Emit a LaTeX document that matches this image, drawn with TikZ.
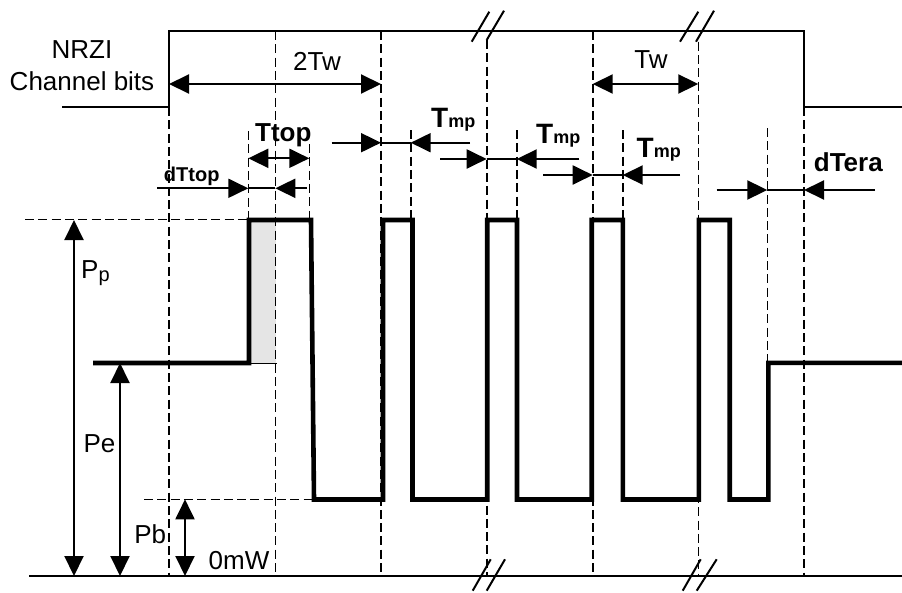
\documentclass[tikz,border=0pt]{standalone}
\usepackage{fontspec}
\setmainfont{Liberation Sans}
\usetikzlibrary{arrows.meta}
\newcommand\tmplbl{\bfseries\fontsize{28}{32}\selectfont T\fontsize{18}{22}\selectfont mp}
\begin{document}
\begin{tikzpicture}[x=1pt,y=-1pt,
  thinln/.style={line width=2pt},
  dashln/.style={line width=1.6pt, dash pattern=on 9pt off 4.3pt},
  wave/.style={line width=4.6pt, line join=miter},
  arr/.style={line width=2pt,-{Triangle[length=20pt,width=19pt]}},
  darr/.style={line width=2pt,{Triangle[length=20pt,width=19pt]}-{Triangle[length=20pt,width=19pt]}},
  lbl/.style={inner sep=0pt, font=\fontsize{26}{30}\selectfont, anchor=base},
  blbl/.style={inner sep=0pt, font=\bfseries\fontsize{26}{30}\selectfont, anchor=base},
  brk/.style={line width=2pt}
]
\useasboundingbox (0,0) rectangle (902,592);

% gray area of first pulse
\fill[gray!20] (251,222) rectangle (275.5,363);
\draw[line width=1pt] (249,363.3) -- (276.5,363.3);

% NRZI channel bits
\draw[thinln] (62,106.7) -- (169,106.7) -- (169,31) -- (804,31) -- (804,106.7) -- (902,106.7);

% base line
\draw[thinln] (29,576) -- (902,576);

% long dashed lines
\foreach \x/\t in {169/107, 275.3/31, 381/31, 486.7/40, 592.7/31, 698.3/41.7, 804/107}
  \draw[dashln] (\x,\t) -- (\x,576);
% short dashed lines
\draw[dashln] (248.3,131) -- (248.3,220);
\draw[dashln] (309.3,144) -- (309.3,220);
\draw[dashln] (410.7,130) -- (410.7,220);
\draw[dashln] (516.7,130) -- (516.7,220);
\draw[dashln] (622.7,130) -- (622.7,220);
\draw[dashln] (767.3,128) -- (767.3,363);
% horizontal dashed levels
\draw[dashln] (25,219.3) -- (248,219.3);
\draw[dashln] (144,499.3) -- (315,499.3);

% waveform
\draw[wave] (93,363) -- (249,363) -- (249,220) -- (311,220) -- (314,499.5)
  -- (383,499.5) -- (383,220) -- (412.5,220) -- (412.5,499.5)
  -- (487.2,499.5) -- (487.2,220) -- (517,220) -- (517,499.5)
  -- (591.7,499.5) -- (591.7,220) -- (622.8,220) -- (622.8,499.5)
  -- (698.8,499.5) -- (698.8,220) -- (729.7,220) -- (729.7,499.5)
  -- (768.3,499.5) -- (768.3,362.8) -- (902,362.8);

% break marks
\draw[brk] (471.7,41.7) -- (489.3,11.7);
\draw[brk] (486.7,40) -- (504,10.7);
\draw[brk] (680,41.7) -- (698.3,11.7);
\draw[brk] (696,41.7) -- (714,10.7);
\draw[brk] (472.7,590.7) -- (490.7,559.3);
\draw[brk] (486.7,590.7) -- (505,559.3);
\draw[brk] (682.7,590.7) -- (700.7,559.3);
\draw[brk] (696.7,590.7) -- (716.7,559.3);

% horizontal dimension arrows
\draw[darr] (169,84) -- (381,84);
\draw[darr] (592.7,84) -- (698.3,84);
\draw[darr] (248.3,158.3) -- (309.3,158.3);
% dTtop
\draw[arr] (157,188.3) -- (248.3,188.3);
\draw[thinln] (248.3,188.3) -- (275.3,188.3);
\draw[arr] (307,188.3) -- (275.3,188.3);
% Tmp 1
\draw[arr] (331.7,142.7) -- (381,142.7);
\draw[thinln] (381,142.7) -- (410.7,142.7);
\draw[arr] (470,142.7) -- (410.7,142.7);
% Tmp 2
\draw[arr] (440,159) -- (486.7,159);
\draw[thinln] (486.7,159) -- (516.7,159);
\draw[arr] (579.3,159) -- (516.7,159);
% Tmp 3
\draw[arr] (543.3,175) -- (592.7,175);
\draw[thinln] (592.7,175) -- (622.7,175);
\draw[arr] (680,175) -- (622.7,175);
% dTera
\draw[arr] (716.7,190) -- (767.3,190);
\draw[thinln] (767.3,190) -- (804,190);
\draw[arr] (875,190) -- (804,190);

% vertical level arrows
\draw[darr] (74,220) -- (74,576);
\draw[darr] (120,363) -- (120,576);
\draw[darr] (185,499.3) -- (185,576);

% labels
\node[lbl] (nrzi) at (82,58.3) {NRZI};
\node[lbl] (chbits) at (82,90) {Channel bits};
\node[lbl] (twtwo) at (317,70) {2Tw};
\node[lbl] (twone) at (651,68) {Tw};
\node[blbl] (ttop) at (283.3,141.5) {Ttop};
\node[blbl, font=\bfseries\fontsize{20}{24}\selectfont] (dttop) at (191.7,181.5) {dTtop};
\node[blbl] (dtera) at (848.3,171.5) {dTera};
\node[inner sep=0pt, anchor=base west] (tmpa) at (431,127.5) {\tmplbl};
\node[inner sep=0pt, anchor=base west] (tmpb) at (536,143.7) {\tmplbl};
\node[inner sep=0pt, anchor=base west] (tmpc) at (636.5,157.5) {\tmplbl};
\node[inner sep=0pt, anchor=base west] (pp) at (81,278.3) {\fontsize{26}{30}\selectfont P\raisebox{-3.5pt}{\fontsize{20}{24}\selectfont p}};
\node[lbl] (pe) at (99.5,452.7) {Pe};
\node[lbl] (pb) at (150.3,543.3) {Pb};
\node[lbl] (zeromw) at (239,569.3) {0mW};
\end{tikzpicture}
\end{document}
